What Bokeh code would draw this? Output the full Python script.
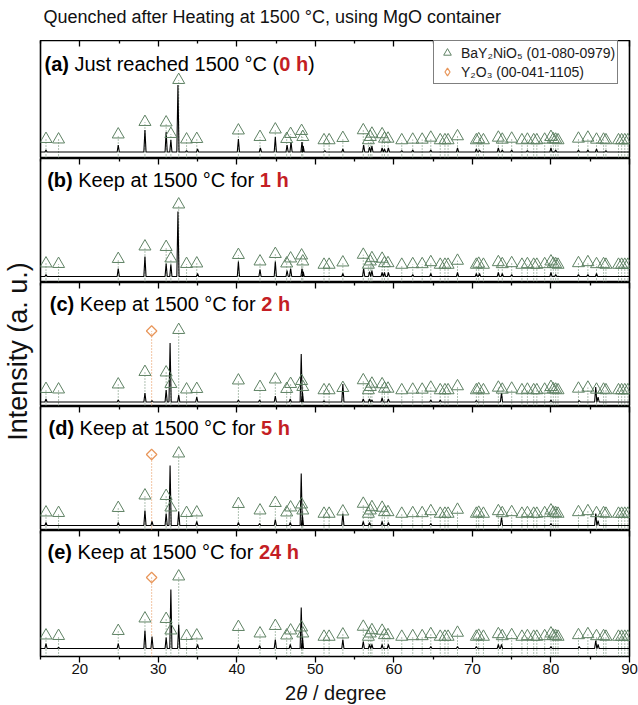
import numpy as np
from bokeh.plotting import figure
from bokeh.models import (Range1d, LinearAxis, FixedTicker, Label, Legend,
                          LegendItem, ColumnDataSource)
from bokeh.layouts import row, column
from bokeh.embed import file_html
from bokeh.resources import INLINE

# ---------------- data ----------------
x_min, x_max = 15, 90
major_ticks = [20, 30, 40, 50, 60, 70, 80, 90]
minor_ticks = [15, 25, 35, 45, 55, 65, 75, 85]

# BaY2NiO5 reference lines (01-080-0979): position, marker height above baseline
bay_pos = [15.7, 17.3, 24.9, 28.3, 31.0, 31.6, 32.6, 33.6, 34.9, 40.2,
           42.95, 44.9, 46.35, 46.85, 48.25, 48.4, 51.1, 51.75, 53.5, 56.1,
           56.75, 57.0, 57.2, 58.5, 58.8, 59.25, 61.0, 62.4, 63.6, 64.7,
           65.9, 66.5, 66.9, 68.1, 70.5, 70.8, 71.4, 73.3, 73.8, 75.0,
           76.3, 77.0, 77.8, 78.2, 79.2, 80.0, 80.3, 80.6, 80.9, 83.5,
           84.7, 85.8, 86.7, 87.0, 88.6, 89.0, 89.4, 89.8]
bay_h = [13, 12.5, 17.5, 30, 29.5, 18, 72, 12.5, 13, 21.5,
         15, 22.5, 13, 18, 21, 15, 11.7, 11.7, 14, 21.7,
         11.7, 15, 18.3, 17.7, 13.3, 13.3, 11.7, 12.3, 12.3, 14.3,
         11.7, 11.7, 11.7, 15.7, 11.7, 12.7, 11.7, 14.3, 12.3, 13.3,
         11.7, 12.3, 11.7, 11.7, 12.3, 15, 12.7, 12.3, 11.7, 13.3,
         14.3, 12.3, 12.3, 11.7, 11.7, 11.7, 11.7, 11.7]

# Y2O3 reference line (00-041-1105)
y2o3_pos = [29.15]
y2o3_h = [71]

# measured peaks of each pattern: position, height above baseline
peaks_a_pos = [15.7, 24.9, 28.3, 31.0, 31.6, 32.5, 33.6, 35.0, 40.2, 43.0, 44.9, 46.4,
               46.9, 48.3, 48.45, 51.2, 53.5, 56.15, 56.9, 57.2, 58.5, 58.8, 59.3,
               61.0, 62.4, 64.7, 68.1, 70.5, 70.9, 73.3, 73.8, 75.0, 77.0, 80.0,
               80.6, 83.5, 84.7, 85.8, 87.0]
peaks_a_h = [2, 7, 22, 20, 12, 67, 1.5, 3, 13, 4, 15, 7,
             10, 10, 6, 1.5, 3, 7, 5, 6, 4, 3, 4,
             1.5, 2, 2, 4, 3, 2, 4, 2, 2, 1.5, 4,
             2, 2, 2, 3, 1.5]

peaks_b_pos = [15.7, 24.9, 28.3, 31.0, 31.6, 32.5, 35.0, 40.2, 42.95, 44.9, 46.4, 46.85,
               48.3, 48.45, 53.5, 56.15, 56.9, 57.2, 58.5, 58.8, 59.3, 62.4, 64.7,
               68.1, 70.5, 70.9, 73.3, 73.8, 75.0, 80.0, 80.6, 83.5, 84.7, 85.8]
peaks_b_h = [2, 8, 20, 13, 12, 65, 3, 15, 7, 15, 6, 8,
             8, 5, 3, 8, 5, 6, 4, 4, 4, 2, 3,
             4, 3, 3, 4, 3, 2, 4, 2, 2, 2, 3]

peaks_c_pos = [15.7, 24.9, 28.3, 29.2, 31.0, 31.5, 32.6, 34.9, 40.2, 42.9, 44.9, 46.8,
               48.2, 48.35, 51.1, 53.5, 56.1, 56.9, 57.2, 58.5, 59.3, 64.7, 65.9,
               70.5, 73.7, 80.0, 83.6, 85.7, 86.0]
peaks_c_h = [3, 2, 9, 1.5, 12, 59, 7, 5, 2, 2, 6, 3,
             48, 10, 1, 18, 3, 3, 2, 4, 3, 2, 2,
             1.5, 9, 2, 1.5, 15, 5]

peaks_d_pos = [15.7, 24.9, 28.3, 29.2, 31.0, 31.5, 32.6, 34.9, 40.2, 42.9, 44.9, 46.8,
               48.2, 48.35, 53.5, 56.1, 56.9, 58.5, 59.3, 64.7, 73.7, 80.0, 85.7, 86.0]
peaks_d_h = [3, 3, 15, 4, 12, 60, 14, 4, 3, 2, 6, 3,
             52, 10, 12, 4, 3, 4, 3, 2, 8, 2, 12, 5]

peaks_e_pos = [15.7, 17.3, 24.9, 28.3, 29.2, 31.0, 31.6, 32.6, 35.0, 40.2, 42.9, 44.9,
               46.8, 48.2, 48.35, 53.5, 56.1, 56.9, 57.2, 58.5, 59.3, 64.7, 68.1,
               70.5, 73.3, 73.7, 80.0, 83.6, 85.7, 86.0]
peaks_e_h = [5, 1, 5, 18, 12, 11, 59, 24, 4, 4, 3, 9,
             4, 41, 12, 9, 7, 4, 4, 4, 4, 2, 2,
             2, 4, 4, 2, 2, 8, 4]

label_prefix = ["(a)", "(b)", "(c)", "(d)", "(e)"]
label_body = ["Just reached 1500 \u00b0C (", "Keep at 1500 \u00b0C for",
              "Keep at 1500 \u00b0C for", "Keep at 1500 \u00b0C for",
              "Keep at 1500 \u00b0C for"]
label_time = ["0 h", "1 h", "2 h", "5 h", "24 h"]
label_tail = [")", "", "", "", ""]
has_y2o3 = [False, False, True, True, True]

title_text = "Quenched after Heating at 1500 \u00b0C, using MgO container"
legend_labels = ["BaY\u2082NiO\u2085 (01-080-0979)", "Y\u2082O\u2083 (00-041-1105)"]
y_label = "Intensity (a. u.)"

# ---------------- style / layout ----------------
FONT = "Liberation Sans"
GREEN = "#5f8264"
ORANGE = "#e8965a"
RED = "#c41e24"
TXT = "#111111"
FRAME_W = 589
PX = FRAME_W / (x_max - x_min)
frame_h = [118, 124, 124, 124, 126]
bot_b = [0, 0, 0, 0, 25]
base = [6.5, 6, 4.5, 5, 8]
lab_x0 = [4, 6.7, 9.3, 8, 7]            # px from frame left
pre_w = [24.4, 25.5, 24.4, 25.5, 24.4]  # bold prefix widths (20px)
SPACE = 5.56
body_w = [210.3, 187.0, 187.0, 187.0, 187.0]  # incl. surrounding spaces
time_w = [28.9, 28.9, 28.9, 28.9, 40.0]
lab_dy = [23, 21, 21, 21, 21]
MAIN_W = 600
TITLE_H = 40
XLAB_H = 24


def fx(px):
    return x_min + px / PX


def bare_fig(w, h, xr, yr, **kw):
    f = figure(width=w, height=h, x_range=xr, y_range=yr, x_axis_location=None,
               y_axis_location=None, toolbar_location=None, output_backend="svg",
               min_border=0, outline_line_color=None, **kw)
    f.grid.visible = False
    return f


peaks = [(peaks_a_pos, peaks_a_h), (peaks_b_pos, peaks_b_h), (peaks_c_pos, peaks_c_h),
         (peaks_d_pos, peaks_d_h), (peaks_e_pos, peaks_e_h)]

x_range = Range1d(x_min, x_max)

# title strip
pt = bare_fig(MAIN_W, TITLE_H, x_range, Range1d(0, TITLE_H),
              min_border_left=2, min_border_right=9)
pt.add_layout(Label(x=fx(3), y=TITLE_H - 16, text=title_text, text_font=FONT,
                    text_font_size="18px", text_baseline="middle", text_color=TXT))

figs = [pt]
for i in range(5):
    fh = frame_h[i]
    b0 = base[i]
    p = figure(width=MAIN_W, height=fh + bot_b[i], x_range=x_range,
               y_range=Range1d(0, fh), x_axis_location=None, y_axis_location=None,
               toolbar_location=None, output_backend="svg", min_border=0,
               min_border_left=2, min_border_right=9, min_border_top=0,
               min_border_bottom=bot_b[i], background_fill_color="white",
               border_fill_color="white")
    p.grid.visible = False
    p.outline_line_color = "black"
    p.outline_line_width = 1.6

    # top axis with inward ticks
    ax = LinearAxis(ticker=FixedTicker(ticks=major_ticks, minor_ticks=minor_ticks),
                    major_label_overrides={t: "" for t in major_ticks},
                    major_label_text_font_size="0px", major_label_standoff=0,
                    major_tick_in=6, major_tick_out=0, minor_tick_in=3, minor_tick_out=0,
                    major_tick_line_width=1.3, minor_tick_line_width=1.3,
                    axis_line_color=None)
    p.add_layout(ax, "above")

    # reference sticks (dotted) + markers
    bs = ColumnDataSource(dict(x=bay_pos, y=[b0 + h for h in bay_h], y0=[0] * len(bay_pos)))
    p.segment(x0="x", y0="y0", x1="x", y1="y", source=bs, line_color=GREEN,
              line_width=1, line_dash="1 2")
    ys = ColumnDataSource(dict(x=y2o3_pos, y=[b0 + h for h in y2o3_h], y0=[0] * len(y2o3_pos)))
    if has_y2o3[i]:
        p.segment(x0="x", y0="y0", x1="x", y1="y", source=ys, line_color=ORANGE,
                  line_width=1.1, line_dash="1 2")

    # measured pattern
    pos, hh = peaks[i]
    xs, yv = [x_min], [b0]
    w = 0.14
    for pk, v in sorted(zip(pos, hh)):
        xs += [pk - w, pk, pk + w]
        yv += [b0, b0 + v, b0]
    xs.append(x_max)
    yv.append(b0)
    p.line(xs, yv, line_color="black", line_width=1.1)

    tri = p.scatter(x="x", y="y", source=bs, marker="triangle", size=12,
                    fill_color=None, line_color=GREEN, line_width=1)
    if has_y2o3[i]:
        p.scatter(x="x", y="y", source=ys, marker="square", angle=np.pi / 4, size=7.4,
                  fill_color=None, line_color=ORANGE, line_width=1.2)

    # panel label
    ly = fh - lab_dy[i]
    x0 = lab_x0[i]
    p.add_layout(Label(x=fx(x0), y=ly, text=label_prefix[i], text_font=FONT,
                       text_font_size="20px", text_font_style="bold",
                       text_baseline="middle", text_color="black"))
    p.add_layout(Label(x=fx(x0 + pre_w[i] + SPACE), y=ly, text=label_body[i], text_font=FONT,
                       text_font_size="20px", text_baseline="middle", text_color="black"))
    x2 = x0 + pre_w[i] + body_w[i]
    p.add_layout(Label(x=fx(x2), y=ly, text=label_time[i], text_font=FONT,
                       text_font_size="20px", text_font_style="bold",
                       text_baseline="middle", text_color=RED))
    if label_tail[i]:
        p.add_layout(Label(x=fx(x2 + time_w[i]), y=ly, text=label_tail[i], text_font=FONT,
                           text_font_size="20px", text_baseline="middle", text_color="black"))

    if i == 0:
        ys_leg = ColumnDataSource(dict(x=y2o3_pos, y=[np.nan] * len(y2o3_pos)))
        dia = p.scatter(x="x", y="y", source=ys_leg, marker="diamond",
                        size=10, fill_color=None, line_color=ORANGE, line_width=1.2)
        leg = Legend(items=[LegendItem(label=legend_labels[0], renderers=[tri]),
                            LegendItem(label=legend_labels[1], renderers=[dia])],
                     location=(393, 74), padding=2, spacing=0, glyph_height=19,
                     glyph_width=22, label_standoff=3, label_height=19,
                     label_text_font=FONT, label_text_font_size="14px",
                     label_text_color="#1a1a1a",
                     border_line_color="black", border_line_width=1,
                     background_fill_alpha=1, margin=0)
        p.add_layout(leg)

    if i == 4:
        bx = LinearAxis(ticker=FixedTicker(ticks=major_ticks, minor_ticks=minor_ticks),
                        major_tick_in=0, major_tick_out=6, minor_tick_in=0, minor_tick_out=3,
                        major_tick_line_width=1.3, minor_tick_line_width=1.3,
                        major_label_text_font=FONT, major_label_text_font_size="15px",
                        major_label_text_color=TXT,
                        major_label_standoff=1, axis_line_color=None)
        p.add_layout(bx, "below")
    figs.append(p)

# x-axis title strip
px_ = bare_fig(MAIN_W, XLAB_H, x_range, Range1d(0, XLAB_H),
               min_border_left=2, min_border_right=9)
ly2 = XLAB_H - 11
px_.add_layout(Label(x=fx(244.6), y=ly2, text="2", text_font=FONT,
                     text_font_size="20px", text_baseline="middle", text_color=TXT))
px_.add_layout(Label(x=fx(255.7), y=ly2, text="\u03b8", text_font=FONT,
                     text_font_size="20px", text_font_style="italic",
                     text_baseline="middle", text_color=TXT))
px_.add_layout(Label(x=fx(272.4), y=ly2, text="/ degree", text_font=FONT,
                     text_font_size="20px", text_baseline="middle", text_color=TXT))
figs.append(px_)

total_h = TITLE_H + sum(frame_h) + sum(bot_b) + XLAB_H
LEFT_W = 38
pl = bare_fig(LEFT_W, total_h, Range1d(0, LEFT_W), Range1d(0, total_h))
pl.add_layout(Label(x=17.5, y=total_h - 351, text=y_label, angle=np.pi / 2,
                    text_align="center", text_baseline="middle", text_font=FONT,
                    text_font_size="27px", text_color=TXT))

layout = row(pl, column(*figs, spacing=0), spacing=0)
open("out.html", "w").write(file_html(layout, INLINE))
